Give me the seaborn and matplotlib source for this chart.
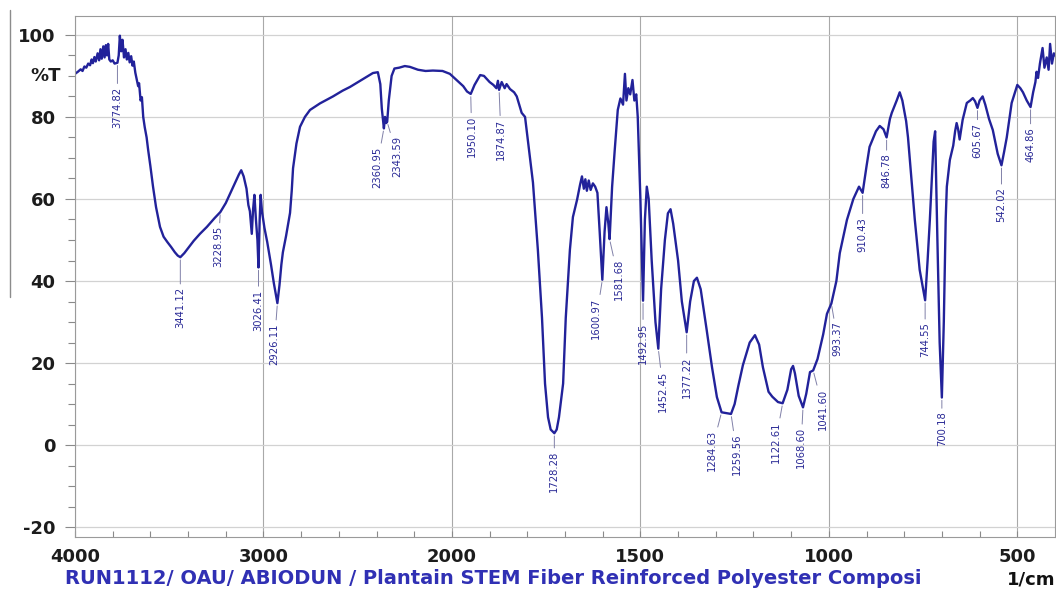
import numpy as np
import pandas as pd
import matplotlib
matplotlib.use("Agg")
import matplotlib.pyplot as plt
from matplotlib.lines import Line2D
import seaborn as sns

# FTIR spectrum of the plantain stem fibre / polyester composite (%T vs 1/cm)
wavenumber = [
    4000, 3985, 3970, 3960, 3950, 3940, 3930, 3920, 3912, 3905, 3897, 3890,
    3880, 3872, 3865, 3858, 3850, 3843, 3836, 3830, 3824, 3818, 3810, 3800,
    3790, 3774.82, 3768, 3762, 3755, 3748, 3740, 3732, 3725, 3717, 3710, 3702,
    3695, 3688, 3680, 3672, 3665, 3660, 3652, 3645, 3638, 3630, 3620, 3612,
    3600, 3586, 3570, 3549, 3530, 3510, 3490, 3470, 3455, 3441.12, 3420, 3400,
    3370, 3337, 3300, 3260, 3228.95, 3200, 3160, 3130, 3118, 3105, 3090, 3080,
    3072, 3062, 3055, 3048, 3040, 3032, 3026.41, 3020, 3015, 3008, 2995, 2980,
    2960, 2945, 2926.11, 2915, 2905, 2897, 2880, 2859, 2850, 2843, 2825, 2806,
    2780, 2753, 2700, 2631, 2580, 2541, 2480, 2419, 2393, 2380, 2372, 2360.95,
    2355, 2349, 2343.59, 2335, 2320, 2305, 2280, 2250, 2223, 2180, 2140, 2101,
    2050, 2011, 1990, 1970, 1960, 1950.10, 1940, 1925, 1915, 1900, 1890, 1882,
    1878, 1874.87, 1868, 1860, 1855, 1846, 1835, 1828, 1815, 1806, 1785, 1772,
    1761, 1753, 1745, 1738, 1728.28, 1722, 1716, 1705, 1698, 1687, 1679, 1668,
    1660, 1655, 1650, 1646, 1642, 1637, 1632, 1626, 1620, 1614, 1608, 1600.97,
    1595, 1590, 1585, 1581.68, 1575, 1568, 1560, 1553, 1546, 1541, 1537, 1532,
    1527, 1521, 1516, 1511, 1507, 1500, 1492.95, 1488, 1483, 1478, 1470, 1460,
    1452.45, 1445, 1435, 1427, 1420, 1413, 1400, 1390, 1377.22, 1368, 1358,
    1350, 1340, 1324, 1310, 1297, 1284.63, 1272, 1259.56, 1250, 1240, 1228,
    1210, 1196, 1185, 1175, 1160, 1150, 1135, 1122.61, 1110, 1100, 1095, 1090,
    1080, 1068.60, 1060, 1050, 1041.60, 1030, 1015, 1005, 993.37, 980, 971,
    952, 935, 920, 910.43, 900, 892, 875, 865, 855, 846.78, 838, 833, 820, 812,
    805, 795, 790, 780, 772, 759, 750, 744.55, 738, 732, 722, 718, 712, 706,
    700.18, 695, 690, 687, 679, 670, 665, 661, 657, 653, 645, 634, 625, 618,
    612, 605.67, 600, 592, 585, 575, 565, 552, 542.02, 535, 528, 515, 500, 492,
    485, 475, 464.86, 458, 452, 449, 445, 440, 433, 428, 422, 417, 413, 408,
    403, 400,
]
transmittance = [
    90.5, 91.0, 91.6, 91.2, 92.3, 92.0, 93.0, 92.6, 94.0, 93.1, 94.6, 93.5,
    95.5, 93.8, 96.5, 94.2, 97.2, 94.5, 97.5, 95.0, 97.8, 94.0, 93.5, 93.8,
    93.0, 93.2, 95.0, 99.8, 96.0, 98.8, 94.5, 96.5, 94.0, 95.6, 93.3, 94.8,
    92.5, 93.5, 90.8, 89.0, 87.5, 88.2, 84.0, 84.8, 80.0, 77.5, 75.0, 72.0,
    68.0, 63.0, 58.0, 53.2, 50.8, 49.5, 48.3, 47.0, 46.2, 45.8, 46.8, 48.0,
    49.8, 51.5, 53.2, 55.3, 56.8, 59.0, 63.0, 66.0, 67.0, 65.5, 62.5, 58.5,
    57.0, 51.5, 57.5, 61.0, 55.0, 50.0, 43.3, 55.0, 61.0, 57.0, 53.0, 49.5,
    44.0, 39.5, 34.6, 39.0, 44.0, 47.0, 51.0, 56.6, 62.0, 67.5, 73.5, 77.6,
    80.0, 81.7, 83.3, 85.0, 86.4, 87.3, 89.0, 90.7, 90.9, 88.0, 82.0, 77.2,
    80.0, 78.5, 78.8, 84.0, 90.0, 91.8, 92.0, 92.4, 92.2, 91.5, 91.2, 91.3,
    91.2, 90.5, 89.2, 87.5, 86.2, 85.6, 87.8, 90.2, 90.0, 88.5, 87.8, 87.0,
    88.8, 86.6, 88.5, 87.0, 88.0, 86.8, 86.0, 85.0, 81.0, 80.0, 64.0, 47.6,
    31.0, 15.0, 6.8, 3.8, 2.9, 3.8, 6.8, 15.0, 31.0, 47.6, 55.6, 59.8,
    63.5, 65.5, 62.5, 64.8, 62.0, 64.5, 62.2, 63.8, 63.0, 61.5, 52.0, 40.3,
    52.0, 58.0, 54.0, 50.2, 63.0, 72.0, 81.7, 84.5, 83.0, 90.5, 84.0, 87.0,
    85.5, 89.0, 84.0, 85.5, 80.0, 60.0, 35.2, 55.0, 63.0, 60.0, 45.0, 30.0,
    23.5, 38.0, 50.0, 56.5, 57.5, 54.0, 45.0, 35.0, 27.5, 35.0, 40.0,
    40.8, 38.0, 28.0, 19.0, 11.7, 8.0, 7.8, 7.6, 10.0, 14.5, 19.5,
    25.0, 26.8, 24.5, 19.0, 13.0, 11.8, 10.5, 10.2, 13.5, 18.5, 19.3, 17.5,
    12.0, 9.2, 12.5, 17.8, 18.2, 21.0, 27.0, 32.0, 34.5, 40.0, 46.8,
    54.9, 60.0, 63.0, 61.5, 68.0, 72.7, 76.5, 77.8, 77.0, 75.0, 79.5, 81.0, 84.0, 86.0,
    84.0, 79.0, 75.0, 64.0, 55.0, 42.7, 38.0, 35.3, 45.0, 55.0, 74.0, 76.5, 50.0, 25.0,
    11.6, 30.0, 55.0, 63.0, 69.5, 73.0, 76.5, 78.5, 77.0, 74.5, 79.3, 83.4, 84.0, 84.6,
    83.8, 82.2, 84.0, 85.0, 83.0, 79.5, 76.8, 71.0, 68.2, 71.5, 75.0, 83.4, 87.8, 87.0,
    86.0, 84.0, 82.4, 86.0, 88.5, 91.0, 89.5, 93.0, 96.8, 92.0, 94.5, 91.5, 97.8, 93.0,
    95.5, 95.0,
]

# Annotated band positions (1/cm)
peak_wavenumbers = [
    3774.82, 3441.12, 3228.95, 3026.41, 2926.11, 2360.95, 2343.59, 1950.10,
    1874.87, 1728.28, 1600.97, 1581.68, 1492.95, 1452.45, 1377.22, 1284.63,
    1259.56, 1122.61, 1068.60, 1041.60, 993.37, 910.43, 846.78, 744.55,
    700.18, 605.67, 542.02, 464.86,
]

y_ticks = [-20, 0, 20, 40, 60, 80, 100]
x_ticks = [4000, 3000, 2000, 1500, 1000, 500]
run_title = "RUN1112/ OAU/ ABIODUN / Plantain STEM Fiber Reinforced Polyester Composi"
unit_text = "1/cm"

# label offsets in pixels (dx, gap below the band) for readability
label_offsets = {
    3774.82: (0, 24), 3441.12: (0, 30), 3228.95: (-2, 14), 3026.41: (0, 22),
    2926.11: (-3, 20), 2360.95: (-7, 18), 2343.59: (10, 14), 1950.10: (1, 22),
    1874.87: (2, 29), 1728.28: (0, 18), 1600.97: (-6, 18), 1581.68: (9, 20),
    1492.95: (0, 22), 1452.45: (5, 22), 1377.22: (0, 24), 1284.63: (-10, 18),
    1259.56: (6, 20), 1122.61: (-7, 18), 1068.60: (-2, 20), 1041.60: (10, 18),
    993.37: (6, 18), 910.43: (0, 24), 846.78: (0, 16), 744.55: (0, 22),
    700.18: (0, 14), 605.67: (0, 15), 542.02: (0, 22), 464.86: (0, 20),
}

sns.set_style("white")
plt.rcParams["font.family"] = ["DejaVu Sans"]

W, H, DPI = 1056, 594, 100
fig = plt.figure(figsize=(W / DPI, H / DPI), dpi=DPI)
ax = fig.add_axes([75 / W, 1 - 537 / H, 980 / W, 521 / H])

df = pd.DataFrame({"wavenumber": wavenumber, "transmittance": transmittance})
LINE = "#22229a"
sns.lineplot(data=df, x="wavenumber", y="transmittance", ax=ax, color=LINE,
             lw=1.7, estimator=None, sort=False)


# spectrometer-style axis: 4000-2000 drawn at half the scale of 2000-400
def fwd(w):
    w = np.asarray(w, dtype=float)
    return np.where(w > 2000, 2000 + (w - 2000) * 0.5, w)


def inv(u):
    u = np.asarray(u, dtype=float)
    return np.where(u > 2000, 2000 + (u - 2000) * 2.0, u)


ax.set_xscale("function", functions=(fwd, inv))
ax.set_xlim(4000, 400)
ax.set_ylim(-22.4, 104.6)

minor_x = [3800, 3600, 3400, 3200, 2800, 2600, 2400, 2200, 1900, 1800, 1700,
           1600, 1400, 1300, 1200, 1100, 900, 800, 700, 600]
ax.set_xticks(x_ticks)
ax.set_xticks(minor_x, minor=True)
ax.set_xticklabels([str(t) for t in x_ticks])
ax.set_yticks(y_ticks)
ax.set_yticks(np.arange(-20, 101, 5), minor=True)
ax.set_yticklabels([str(t) for t in y_ticks])

tick_font = dict(fontsize=13, fontweight="bold", color="#1c1c1c")
for lab in ax.get_xticklabels() + ax.get_yticklabels():
    lab.set_fontsize(13)
    lab.set_fontweight("bold")
    lab.set_color("#1c1c1c")

ax.tick_params(axis="x", which="both", direction="in", length=4, width=0.8,
               color="#8a8a8a", pad=8, top=False, bottom=True)
ax.tick_params(axis="y", which="major", direction="out", length=7, width=0.8,
               color="#8a8a8a", pad=7, left=True, right=False)
ax.tick_params(axis="y", which="minor", direction="out", length=5, width=0.8,
               color="#8a8a8a", left=True, right=False)

ax.xaxis.grid(True, which="major", color="#a9a9a9", lw=0.8)
ax.yaxis.grid(True, which="major", color="#d2d2d2", lw=0.9)
ax.set_axisbelow(True)
for side in ["left", "right", "top", "bottom"]:
    ax.spines[side].set_visible(True)
    ax.spines[side].set_color("#9a9a9a")
    ax.spines[side].set_linewidth(0.8)

ax.set_xlabel("")
ax.set_ylabel("")

# %T marker on the ordinate
ax.annotate("%T", xy=(0, 90), xycoords=("axes fraction", "data"),
            xytext=(-10.5, 0), textcoords="offset points", ha="right",
            va="center", **tick_font)

# band labels
px2pt = 72 / DPI
for wn in peak_wavenumbers:
    t = transmittance[wavenumber.index(wn)]
    dx, gap = label_offsets[wn]
    ax.annotate(f"{wn:.2f}", xy=(wn, t), xytext=(dx * px2pt, -gap * px2pt),
                textcoords="offset points", rotation=90, ha="center",
                va="top", fontsize=8, fontstretch="condensed",
                color="#2a2a96",
                arrowprops=dict(arrowstyle="-", color="#8080a8", lw=0.7,
                                shrinkA=0, shrinkB=2))

fig.text(65 / W, 1 - 579 / H, run_title, ha="left", va="center",
         fontsize=14, fontweight="bold", color="#3030b4")
fig.text(1055 / W, 1 - 579 / H, unit_text, ha="right", va="center",
         fontsize=13, fontweight="bold", color="#111111")

fig.add_artist(Line2D([10 / W, 10 / W], [1 - 10 / H, 1 - 297 / H],
                      transform=fig.transFigure, color="#8c8c8c", lw=1.0))

fig.savefig("out.png", dpi=DPI)
